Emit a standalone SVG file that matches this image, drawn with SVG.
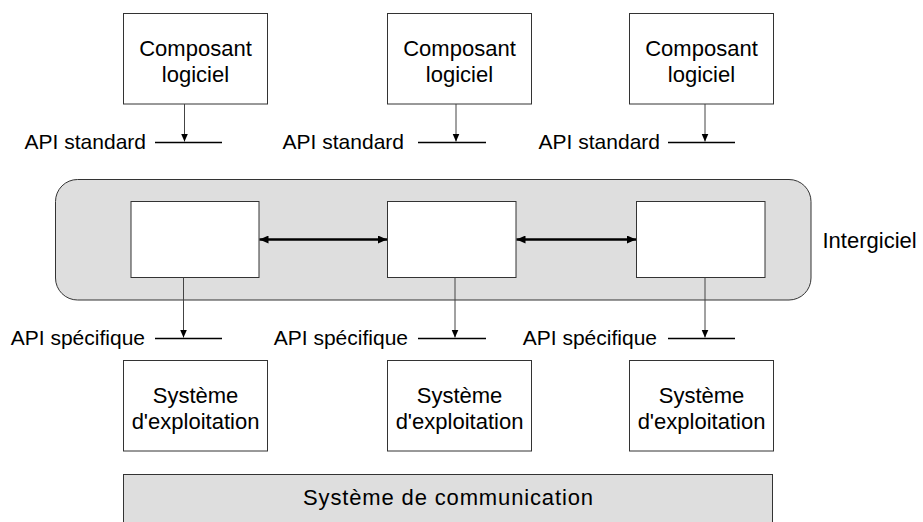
<svg xmlns="http://www.w3.org/2000/svg" width="923" height="522" viewBox="0 0 923 522">
<defs>
<style>
text{font-family:"Liberation Sans",Arial,sans-serif;fill:#000}
.lbl{font-size:22px;text-anchor:middle}
.api{font-size:21px;text-anchor:end}
.box{fill:#fff;stroke:#333;stroke-width:1}
.grey{fill:#dedede;stroke:#333;stroke-width:1}
.down{stroke:#444;stroke-width:1;fill:none;marker-end:url(#ah)}
.bus{stroke:#000;stroke-width:1.6;fill:none}
.dbl{stroke:#000;stroke-width:2.6;fill:none;marker-start:url(#dh);marker-end:url(#dh)}
</style>
<marker id="ah" markerUnits="userSpaceOnUse" markerWidth="8" markerHeight="8" refX="8" refY="3.5" orient="auto" viewBox="0 0 8 7">
<path d="M0,0 L8,3.5 L0,7 z" fill="#000"/>
</marker>
<marker id="dh" markerUnits="userSpaceOnUse" markerWidth="9" markerHeight="8" refX="9" refY="4" orient="auto-start-reverse" viewBox="0 0 9 8">
<path d="M0,0 L9,4 L0,8 z" fill="#000"/>
</marker>
</defs>

<g id="intergiciel">
<rect class="grey" x="55.5" y="179.5" width="755.5" height="120.5" rx="22" ry="22"/>
<text x="822.5" y="248" font-size="22">Intergiciel</text>
</g>

<g id="comp1"><rect class="box" x="123.5" y="13.5" width="144" height="90.5"/>
<text class="lbl" x="195.5" y="56">Composant</text><text class="lbl" x="195.5" y="82">logiciel</text></g>
<g id="comp2"><rect class="box" x="387.5" y="13.5" width="144" height="90.5"/>
<text class="lbl" x="459.5" y="56">Composant</text><text class="lbl" x="459.5" y="82">logiciel</text></g>
<g id="comp3"><rect class="box" x="629.5" y="13.5" width="144" height="90.5"/>
<text class="lbl" x="701.5" y="56">Composant</text><text class="lbl" x="701.5" y="82">logiciel</text></g>

<g id="mw1"><rect class="box" x="131" y="201.5" width="128" height="76"/></g>
<g id="mw2"><rect class="box" x="387.5" y="201.5" width="128.5" height="76"/></g>
<g id="mw3"><rect class="box" x="636.5" y="201.5" width="128.5" height="76"/></g>

<g id="os1"><rect class="box" x="123.5" y="360.5" width="144" height="90.5"/>
<text class="lbl" x="195.5" y="403">Système</text><text class="lbl" x="195.5" y="429">d'exploitation</text></g>
<g id="os2"><rect class="box" x="387.5" y="360.5" width="144" height="90.5"/>
<text class="lbl" x="459.5" y="403">Système</text><text class="lbl" x="459.5" y="429">d'exploitation</text></g>
<g id="os3"><rect class="box" x="629.5" y="360.5" width="144" height="90.5"/>
<text class="lbl" x="701.5" y="403">Système</text><text class="lbl" x="701.5" y="429">d'exploitation</text></g>

<g id="comm"><rect class="grey" x="123.5" y="474.5" width="649" height="60"/>
<text class="lbl" x="448" y="505" textLength="290">Système de communication</text></g>

<g id="api-labels">
<text class="api" x="146" y="149">API standard</text>
<text class="api" x="404" y="149">API standard</text>
<text class="api" x="660" y="149">API standard</text>
<text class="api" x="145" y="345">API spécifique</text>
<text class="api" x="408" y="345">API spécifique</text>
<text class="api" x="657" y="345">API spécifique</text>
</g>

<g id="connectors">
<line class="bus" x1="155" y1="142.5" x2="222" y2="142.5"/>
<line class="bus" x1="418" y1="142.5" x2="486" y2="142.5"/>
<line class="bus" x1="668" y1="142.5" x2="735" y2="142.5"/>
<line class="bus" x1="155" y1="338.5" x2="222" y2="338.5"/>
<line class="bus" x1="418" y1="338.5" x2="486" y2="338.5"/>
<line class="bus" x1="668" y1="338.5" x2="735" y2="338.5"/>
<line class="down" x1="184.5" y1="104" x2="184.5" y2="141.5"/>
<line class="down" x1="456" y1="104" x2="456" y2="141.5"/>
<line class="down" x1="705" y1="104" x2="705" y2="141.5"/>
<line class="down" x1="183.5" y1="277.5" x2="183.5" y2="337.5"/>
<line class="down" x1="455" y1="277.5" x2="455" y2="337.5"/>
<line class="down" x1="705" y1="277.5" x2="705" y2="337.5"/>
<line class="dbl" x1="259.5" y1="239.5" x2="387" y2="239.5"/>
<line class="dbl" x1="516.5" y1="239.5" x2="636" y2="239.5"/>
</g>
</svg>
